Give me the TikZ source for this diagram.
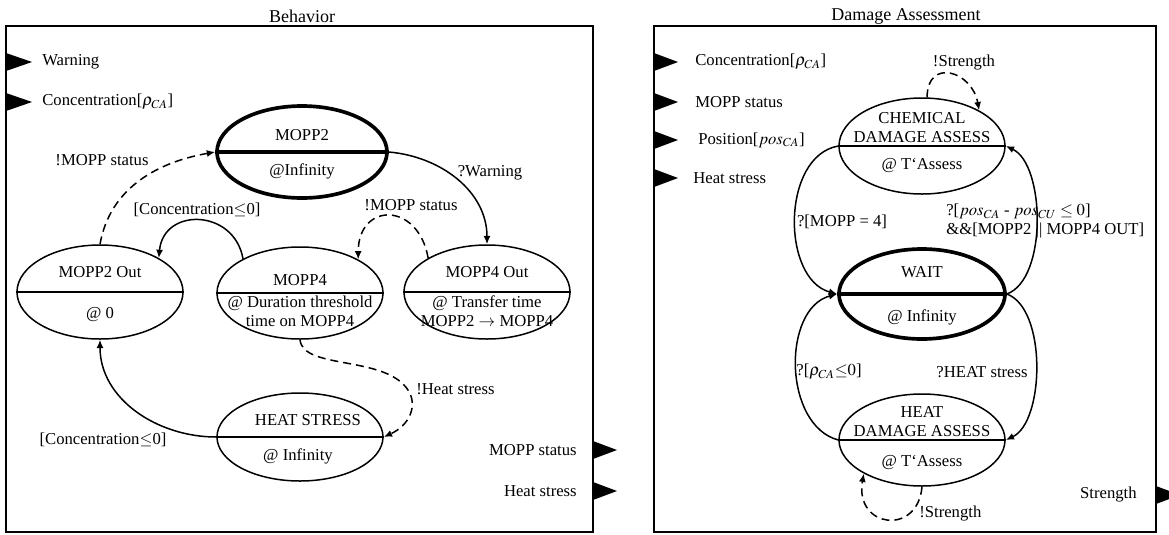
\documentclass[tikz,border=0pt]{standalone}
\usepackage{mathptmx}
\usepackage{fontspec}
\setmainfont{Liberation Serif}
\usetikzlibrary{arrows.meta, shapes.geometric}

\begin{document}
\begin{tikzpicture}[
  x=0.6pt, y=0.6pt,
  font=\fontsize{10}{11.4}\selectfont,
  state/.style={ellipse, draw, line width=0.9pt, minimum width=99.6pt, minimum height=55.2pt, inner sep=0pt},
  mainstate/.style={state, line width=2.2pt},
  divider/.style={line width=0.9pt},
  maindivider/.style={line width=2.2pt},
  txt/.style={inner sep=0pt, align=center},
  title/.style={inner sep=0pt, font=\fontsize{10.8}{12}\selectfont},
  frame/.style={draw, line width=1pt},
  arrow/.style={-{Latex[length=5pt,width=4.2pt]}, line width=0.9pt},
  dashedarrow/.style={arrow, dash pattern=on 4.8pt off 3pt}
]
\useasboundingbox (0,0) rectangle (1169,-534);
% panels
\node[title] (behtitle) at (302,-16) {Behavior};
\node[title] (datitle) at (906,-16) {Damage Assessment};
\draw[frame] (6,-26) rectangle (593,-532);
\draw[frame] (654,-26) rectangle (1156,-532);
% ports of Behavior
\fill (6,-53) -- (32,-62) -- (6,-71) -- cycle;
\fill (6,-93) -- (32,-102) -- (6,-111) -- cycle;
\fill (593,-441) -- (617,-450) -- (593,-459) -- cycle;
\fill (593,-482) -- (617,-491) -- (593,-500) -- cycle;
\node[txt, anchor=west] (inwarning) at (42,-62) {Warning};
\node[txt, anchor=west] (inconc) at (42,-102) {Concentration[$\rho_{CA}$]};
\node[txt, anchor=east] (outmopp) at (577,-450) {MOPP status};
\node[txt, anchor=east] (outheat) at (577,-491) {Heat stress};
% ports of Damage Assessment
\fill (654,-53) -- (678,-62) -- (654,-71) -- cycle;
\fill (654,-93) -- (678,-102) -- (654,-111) -- cycle;
\fill (654,-131) -- (678,-140) -- (654,-149) -- cycle;
\fill (654,-169) -- (678,-178) -- (654,-187) -- cycle;
\fill (1156,-486) -- (1180,-495) -- (1156,-504) -- cycle;
\node[txt, anchor=west] (daconc) at (695,-62) {Concentration[$\rho_{CA}$]};
\node[txt, anchor=west] (damopp) at (695,-102) {MOPP status};
\node[txt, anchor=west] (dapos) at (698,-140) {Position[$pos_{CA}$]};
\node[txt, anchor=west] (daheat) at (693,-178) {Heat stress};
\node[txt, anchor=east] (dastrength) at (1137,-495) {Strength};
% states of Behavior
\node[mainstate, minimum width=102pt] (mopp2) at (302,-152) {};
\draw[maindivider] (mopp2.west) -- (mopp2.east);
\node[txt] (mopp2name) at (302,-135) {MOPP2};
\node[txt] (mopp2time) at (302,-171) {@Infinity};
\node[state, minimum height=56.4pt] (mopp2out) at (100,-292) {};
\draw[divider] (mopp2out.west) -- (mopp2out.east);
\node[txt] (mopp2outname) at (100,-272) {MOPP2 Out};
\node[txt] (mopp2outtime) at (100,-315) {@ 0};
\node[state] (mopp4) at (300,-293) {};
\draw[divider] (mopp4.west) -- (mopp4.east);
\node[txt] (mopp4name) at (300,-280) {MOPP4};
\node[txt] (mopp4time) at (300,-311.5) {@ Duration threshold\\time on MOPP4};
\node[state, minimum height=56.4pt] (mopp4out) at (487,-292) {};
\draw[divider] (mopp4out.west) -- (mopp4out.east);
\node[txt] (mopp4outname) at (487,-272) {MOPP4 Out};
\node[txt] (mopp4outtime) at (487,-311.5) {@ Transfer time\\MOPP2 $\rightarrow$ MOPP4};
\node[state, minimum height=52.8pt] (heatstress) at (300,-437) {};
\draw[divider] (heatstress.west) -- (heatstress.east);
\node[txt] (heatstressname) at (308,-420) {HEAT STRESS};
\node[txt] (heatstresstime) at (298,-456) {@ Infinity};
% states of Damage Assessment
\node[state, minimum height=57.6pt] (chem) at (922,-146) {};
\draw[divider] (chem.west) -- (chem.east);
\node[txt] (chemname) at (922,-127.5) {CHEMICAL\\DAMAGE ASSESS};
\node[txt] (chemtime) at (922,-166) {@ T`Assess};
\node[mainstate, minimum height=54pt] (wait) at (922,-294) {};
\draw[maindivider] (wait.west) -- (wait.east);
\node[txt] (waitname) at (922,-272) {WAIT};
\node[txt] (waittime) at (922,-317) {@ Infinity};
\node[state] (heatda) at (922,-440) {};
\draw[divider] (heatda.west) -- (heatda.east);
\node[txt] (heatdaname) at (922,-422) {HEAT\\DAMAGE ASSESS};
\node[txt] (heatdatime) at (922,-463) {@ T`Assess};
% transitions of Behavior
\draw[dashedarrow] (mopp2out.north) to[out=80,in=190] (mopp2.west);
\draw[arrow] (mopp2.east) to[out=-5,in=90] (mopp4out.north);
\draw[arrow] (mopp4.149) to[out=100,in=85,looseness=1.55] (mopp2out.30);
\draw[dashedarrow] (mopp4out.150) to[out=100,in=90,looseness=2.1] (mopp4.30);
\draw[dashedarrow] (mopp4.south) .. controls (303,-370) and (385,-355) .. (408,-390) .. controls (418,-405) and (410,-425) .. (heatstress.east);
\draw[arrow] (heatstress.west) to[out=180,in=-90] (mopp2out.south);
\node[txt] (lblstatusa) at (102,-160) {!MOPP status};
\node[txt] (lblwarning) at (490,-173) {?Warning};
\node[txt] (lblconca) at (197,-210) {[Concentration$\leq$0]};
\node[txt] (lblstatusb) at (411,-205) {!MOPP status};
\node[txt, anchor=west] (lblheat) at (416,-389) {!Heat stress};
\node[txt] (lblconcb) at (103,-440) {[Concentration$\leq$0]};
% transitions of Damage Assessment
\draw[arrow] (chem.west) to[out=190,in=165] (wait.west);
\draw[arrow] (wait.east) to[out=20,in=-25,looseness=0.75] (chem.east);
\draw[arrow] (heatda.west) to[out=165,in=195] (wait.west);
\draw[arrow] (wait.east) to[out=-20,in=25,looseness=0.75] (heatda.east);
\draw[dashedarrow] (chem.84) .. controls +(90:40) and +(100:40) .. (chem.32);
\draw[dashedarrow] (heatda.south) .. controls +(-95:50) and +(-100:55) .. (heatda.210);
\node[txt] (lblstra) at (964,-63) {!Strength};
\node[txt] (lblmopp) at (842,-222) {?[MOPP = 4]};
\node[txt, anchor=west, align=left] (lblpos) at (946,-221) {?[$pos_{CA}$ - $pos_{CU} \leq 0$]\\\&\&[MOPP2 || MOPP4 OUT]};
\node[txt] (lblrho) at (829,-372) {?[$\rho_{CA}{\leq}0$]};
\node[txt] (lblheatq) at (982,-372) {?HEAT stress};
\node[txt, anchor=west] (lblstrb) at (919,-514) {!Strength};
\end{tikzpicture}
\end{document}
